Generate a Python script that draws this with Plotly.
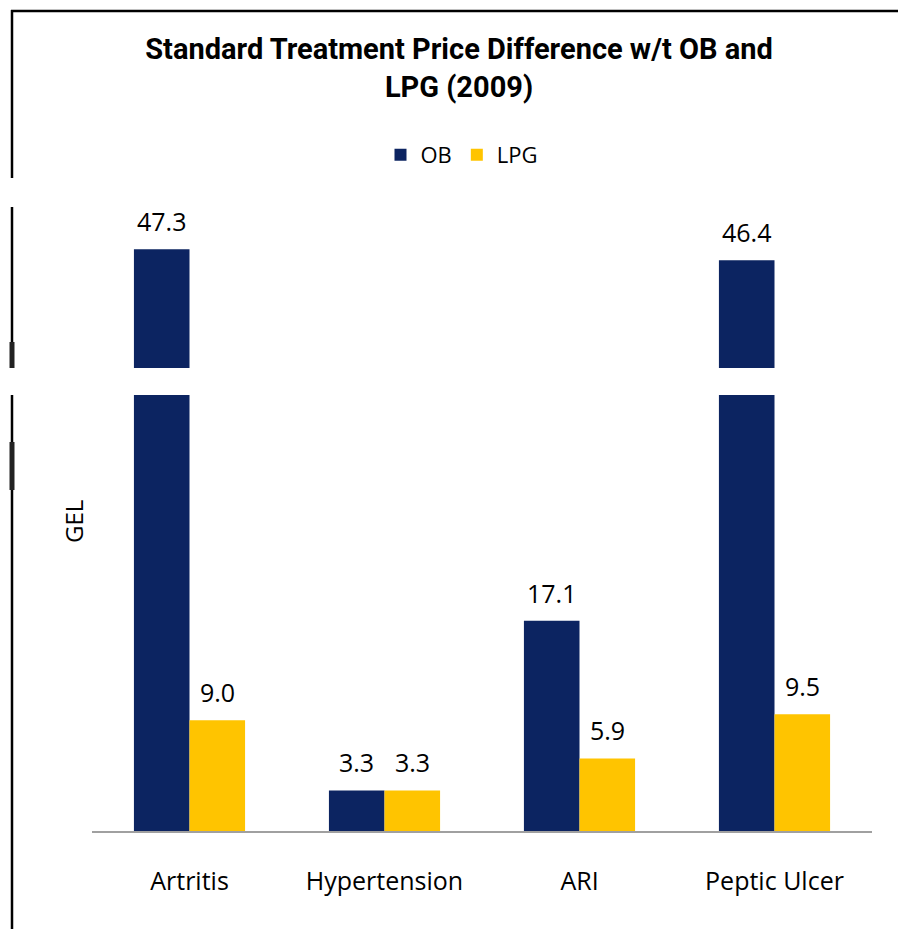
import plotly.graph_objects as go

categories = ["Artritis", "Hypertension", "ARI", "Peptic Ulcer"]
ob_values = [47.3, 3.3, 17.1, 46.4]
lpg_values = [9.0, 3.3, 5.9, 9.5]
series_names = ["OB", "LPG"]
title_text = "Standard Treatment Price Difference w/t OB and<br>LPG (2009)"
y_title = "GEL"

NAVY = "#0C2461"
GOLD = "#FFC400"
W, H = 898, 929
L, R, T, B = 92, 26, 210, 98
PW, PH = W - L - R, H - T - B
FONT = "Open Sans, Lato, sans-serif"

def px_x(x):
    return (x - L) / PW

def px_y(y):
    return (H - B - y) / PH

fig = go.Figure()
fig.add_trace(go.Bar(x=categories, y=ob_values, name=series_names[0],
                     marker=dict(color=NAVY, line=dict(width=0))))
fig.add_trace(go.Bar(x=categories, y=lpg_values, name=series_names[1],
                     marker=dict(color=GOLD, line=dict(width=0))))

label_font = dict(family=FONT, size=25, color="#000000")
half_group = PW / len(categories) * (1 - 0.43) / 4
annotations = []
for i, c in enumerate(categories):
    for vals, sh in ((ob_values, -half_group), (lpg_values, half_group)):
        annotations.append(dict(x=c, y=vals[i], xref="x", yref="y", text=f"{vals[i]:.1f}",
                                showarrow=False, xshift=sh, yshift=28, font=label_font,
                                xanchor="center", yanchor="middle"))
annotations.append(dict(x=px_x(73), y=px_y(522), xref="paper", yref="paper", text=y_title,
                        textangle=-90, showarrow=False, font=dict(family=FONT, size=24, color="#000000"),
                        xanchor="center", yanchor="middle"))

shapes = []
# white band across the chart
shapes.append(dict(type="rect", xref="paper", yref="paper", x0=px_x(0), x1=px_x(W),
                   y0=px_y(368), y1=px_y(395), fillcolor="white", line=dict(width=0), layer="above"))
# frame: top line
shapes.append(dict(type="line", xref="paper", yref="paper", x0=px_x(11), x1=px_x(W),
                   y0=px_y(11), y1=px_y(11), line=dict(color="black", width=2.5)))
# frame: left line segments with gaps
for y0, y1 in ((10, 178), (207, 368), (395, H)):
    shapes.append(dict(type="line", xref="paper", yref="paper", x0=px_x(12), x1=px_x(12),
                       y0=px_y(y0), y1=px_y(y1), line=dict(color="black", width=2.5)))
for y0, y1 in ((342, 368), (442, 490)):
    shapes.append(dict(type="line", xref="paper", yref="paper", x0=px_x(12), x1=px_x(12),
                       y0=px_y(y0), y1=px_y(y1), line=dict(color="#222222", width=5)))

fig.update_layout(
    width=W, height=H,
    margin=dict(l=L, r=R, t=T, b=B, autoexpand=False),
    paper_bgcolor="white", plot_bgcolor="white",
    barmode="group", bargap=0.43, bargroupgap=0,
    title=dict(text=title_text, x=459 / W, xanchor="center", y=1 - 59 / H, yanchor="middle",
               font=dict(family="Roboto, sans-serif", size=29, color="#000000", weight="bold")),
    legend=dict(orientation="h", x=px_x(462), xanchor="center", y=px_y(155), yanchor="middle",
                font=dict(family=FONT, size=22, color="#000000"),
                itemwidth=30, traceorder="normal", bgcolor="rgba(0,0,0,0)"),
    xaxis=dict(showline=True, linecolor="#A0A0A0", linewidth=2, ticks="outside",
               ticklen=27, tickcolor="rgba(0,0,0,0)", showgrid=False,
               tickfont=dict(family=FONT, size=25, color="#000000")),
    yaxis=dict(range=[0, PH / 12.3], showline=False, showgrid=False, zeroline=False,
               showticklabels=False, ticks=""),
    annotations=annotations,
    shapes=shapes,
    showlegend=True,
)

fig.write_html("out.html", config={"displayModeBar": False},
               post_script="document.body.style.margin='0';")
